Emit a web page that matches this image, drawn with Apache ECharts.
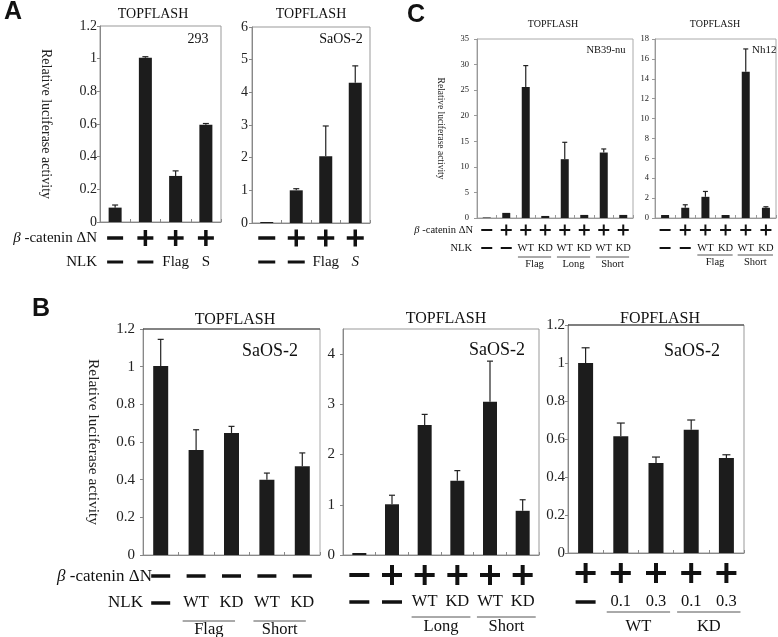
<!DOCTYPE html>
<html><head><meta charset="utf-8">
<script src="https://cdn.jsdelivr.net/npm/echarts@6/dist/echarts.min.js"></script>
<style>html,body{margin:0;padding:0;background:#fff}#c{width:778px;height:637px}</style>
</head><body><div id="c"></div>
<script>
// ---------- DATA ----------
// Panel A (293)
const a1Values = [0.088, 1.006, 0.282, 0.595];
const a1ErrTop = [0.104, 1.012, 0.313, 0.603];
const a1Beta = ['-', '+', '+', '+'];
const a1Nlk = ['-', '-', 'Flag', 'S'];
const a1YAxis = [0, 1.2, 0.2];
// Panel A (SaOS-2)
const a2Values = [0.03, 1.0, 2.04, 4.29];
const a2ErrTop = [0.03, 1.05, 2.97, 4.81];
const a2Beta = ['-', '+', '+', '+'];
const a2Nlk = ['-', '-', 'Flag', 'S'];
const a2YAxis = [0, 6, 1];
// Panel C (NB39-nu)
const c1Values = [0.1, 1.0, 25.6, 0.4, 11.5, 0.6, 12.8, 0.6];
const c1ErrTop = [0.1, 1.1, 29.8, 0.45, 14.8, 0.7, 13.5, 0.65];
const c1Beta = ['-', '+', '+', '+', '+', '+', '+', '+'];
const c1Nlk = ['-', '-', 'WT', 'KD', 'WT', 'KD', 'WT', 'KD'];
const c1Groups = [['Flag', 2, 3], ['Long', 4, 5], ['Short', 6, 7]];
const c1YAxis = [0, 35, 5];
// Panel C (Nh12)
const c2Values = [0.3, 1.03, 2.13, 0.3, 14.7, 1.03];
const c2ErrTop = [0.3, 1.33, 2.67, 0.3, 17.0, 1.13];
const c2Beta = ['-', '+', '+', '+', '+', '+'];
const c2Nlk = ['-', '-', 'WT', 'KD', 'WT', 'KD'];
const c2Groups = [['Flag', 2, 3], ['Short', 4, 5]];
const c2YAxis = [0, 18, 2];
// Panel B (TOPFLASH, no beta-catenin)
const b1Values = [1.004, 0.558, 0.648, 0.40, 0.471];
const b1ErrTop = [1.145, 0.665, 0.683, 0.435, 0.542];
const b1Beta = ['-', '-', '-', '-', '-'];
const b1Nlk = ['-', 'WT', 'KD', 'WT', 'KD'];
const b1Groups = [['Flag', 1, 2], ['Short', 3, 4]];
const b1YAxis = [0, 1.2, 0.2];
// Panel B (TOPFLASH, Long/Short)
const b2Values = [0.04, 1.01, 2.59, 1.48, 3.05, 0.88];
const b2ErrTop = [0.04, 1.19, 2.80, 1.68, 3.86, 1.10];
const b2Beta = ['-', '+', '+', '+', '+', '+'];
const b2Nlk = ['-', '-', 'WT', 'KD', 'WT', 'KD'];
const b2Groups = [['Long', 2, 3], ['Short', 4, 5]];
const b2YAxis = [0, 4.5, 1];
// Panel B (FOPFLASH)
const b3Values = [1.0, 0.614, 0.474, 0.649, 0.50];
const b3ErrTop = [1.08, 0.684, 0.505, 0.70, 0.517];
const b3Beta = ['+', '+', '+', '+', '+'];
const b3Nlk = ['-', '0.1', '0.3', '0.1', '0.3'];
const b3Groups = [['WT', 1, 2], ['KD', 3, 4]];
const b3YAxis = [0, 1.2, 0.2];

// ---------- LAYOUT / STYLE ----------
const SERIF = 'Liberation Serif';
const SANS = 'Liberation Sans';
const panels = [
  {values:a1Values, err:a1ErrTop, beta:a1Beta, nlk:a1Nlk, groups:[], y:a1YAxis,
   grid:{left:100, top:26, width:121, height:196}, barW:13, cap:3, lab:14, labMargin:3, axisColor:'#888', border:'#999',
   name:'Relative luciferase activity', nameGap:47, nameSize:14,
   st:{betaDy:16, nlkDy:40, symHalf:8, symW:3.5, dashHalf:8, dashW:3, font:15}},
  {values:a2Values, err:a2ErrTop, beta:a2Beta, nlk:a2Nlk, groups:[], y:a2YAxis, italicS:true,
   grid:{left:252, top:27, width:118, height:196}, barW:13, cap:3, lab:14, labMargin:4, axisColor:'#888', border:'#999',
   st:{betaDy:15, nlkDy:39, symHalf:8.5, symW:3.5, dashHalf:8.5, dashW:3, font:15}},
  {values:c1Values, err:c1ErrTop, beta:c1Beta, nlk:c1Nlk, groups:c1Groups, y:c1YAxis,
   grid:{left:477, top:39, width:156, height:179}, barW:8, cap:2.5, lab:8.5, labMargin:8, axisColor:'#999', border:'#aaa',
   name:'Relative luciferase activity', nameGap:32, nameSize:9.5,
   st:{betaDy:12, nlkDy:30, lineDy:39, groupDy:46, symHalf:5.5, symW:2, dashHalf:5.5, dashW:2, font:10.5, ulL:0.4, ulR:0.3}},
  {values:c2Values, err:c2ErrTop, beta:c2Beta, nlk:c2Nlk, groups:c2Groups, y:c2YAxis,
   grid:{left:655, top:39, width:121, height:179}, barW:8, cap:2.5, lab:8.5, labMargin:6, axisColor:'#999', border:'#aaa',
   st:{betaDy:12, nlkDy:30, lineDy:37, groupDy:44, symHalf:5.5, symW:2, dashHalf:5.5, dashW:2, font:10.5, ulL:0.4, ulR:0.35}},
  {values:b1Values, err:b1ErrTop, beta:b1Beta, nlk:b1Nlk, groups:b1Groups, y:b1YAxis,
   grid:{left:143, top:329, width:177, height:226}, barW:15, cap:3, lab:15, labMargin:8, axisColor:'#888', border:'#aaa',
   name:'Relative luciferase activity', nameGap:42, nameSize:15.5,
   st:{betaDy:21, nlkDy:48, lineDy:66, groupDy:75, symHalf:9.5, symW:3.5, dashHalf:9.5, dashW:3.5, font:16.5, ulL:0.38, ulR:0.1}},
  {values:b2Values, err:b2ErrTop, beta:b2Beta, nlk:b2Nlk, groups:b2Groups, y:b2YAxis,
   grid:{left:343, top:329, width:196, height:226}, barW:14, cap:3, lab:15, labMargin:8, axisColor:'#888', border:'#999', hideMax:true,
   st:{betaDy:20, nlkDy:47, lineDy:62, groupDy:72, symHalf:10, symW:4, dashHalf:10, dashW:3.5, font:16.5, ulL:0.4, ulR:0.4}},
  {values:b3Values, err:b3ErrTop, beta:b3Beta, nlk:b3Nlk, groups:b3Groups, y:b3YAxis,
   grid:{left:568, top:325, width:176, height:228}, barW:15, cap:4, lab:15, labMargin:3, axisColor:'#888', border:'#999',
   st:{betaDy:20, nlkDy:49, lineDy:59, groupDy:74, symHalf:10, symW:4, dashHalf:10, dashW:3.5, font:16.5, ulL:0.4, ulR:0.4}}
];

function tstyle(text, size, family, weight, align, italic) {
  return {text:text, fill:'#111', fontSize:size, fontFamily:family || SERIF, fontWeight:weight || 'normal',
    fontStyle:italic ? 'italic' : 'normal',
    align:align || 'center', verticalAlign:'middle', textAlign:align || 'center', textVerticalAlign:'middle'};
}

function addSym(kids, s, x, y, st, isNlk, italic) {
  if (s === '+') {
    kids.push({type:'line', shape:{x1:x - st.symHalf, y1:y, x2:x + st.symHalf, y2:y}, style:{stroke:'#111', lineWidth:st.symW}});
    kids.push({type:'line', shape:{x1:x, y1:y - st.symHalf, x2:x, y2:y + st.symHalf}, style:{stroke:'#111', lineWidth:st.symW}});
  } else if (s === '-') {
    const h = isNlk ? st.dashHalf : st.symHalf;
    const w = isNlk ? st.dashW : st.symW;
    kids.push({type:'line', shape:{x1:x - h, y1:y, x2:x + h, y2:y}, style:{stroke:'#111', lineWidth:w}});
  } else {
    kids.push({type:'text', x:x, y:y, style:tstyle(s, st.font, SERIF, 'normal', 'center', italic)});
  }
}

const grids = [], xAxes = [], yAxes = [], series = [];
panels.forEach((p, k) => {
  grids.push(Object.assign({show:true, borderColor:p.border, borderWidth:1, backgroundColor:'transparent', containLabel:false}, p.grid));
  xAxes.push({gridIndex:k, type:'category', data:p.values.map((v, i) => String(i + 1)),
    axisLine:{lineStyle:{color:p.axisColor, width:1}}, axisLabel:{show:false},
    axisTick:{show:true, inside:true, length:3, alignWithLabel:false, lineStyle:{color:p.axisColor}}, splitLine:{show:false}});
  yAxes.push({gridIndex:k, type:'value', min:p.y[0], max:p.y[1], interval:p.y[2],
    axisLine:{show:true, lineStyle:{color:p.axisColor, width:1}},
    axisTick:{show:true, length:3, lineStyle:{color:p.axisColor}},
    axisLabel:{fontFamily:SERIF, fontSize:p.lab, color:'#222', margin:p.labMargin, showMaxLabel:!p.hideMax},
    splitLine:{show:false},
    name:p.name || '', nameLocation:'middle', nameRotate:-90, nameGap:p.nameGap || 0,
    nameTextStyle:{fontFamily:SERIF, fontSize:p.nameSize || 12, color:'#222'}});
  series.push({type:'bar', xAxisIndex:k, yAxisIndex:k, data:p.values, barWidth:p.barW, silent:true,
    itemStyle:{color:'#1c1c1c'}, z:2});
  series.push({type:'custom', xAxisIndex:k, yAxisIndex:k, silent:true, z:3,
    data:p.values.map((v, i) => [i, v, p.err[i]]), encode:{x:0, y:[1, 2]},
    renderItem(params, api) {
      const b = api.coord([api.value(0), api.value(1)]);
      const t = api.coord([api.value(0), api.value(2)]);
      if (b[1] - t[1] < 0.8) return {type:'group', children:[]};
      return {type:'group', children:[
        {type:'line', shape:{x1:b[0], y1:b[1], x2:t[0], y2:t[1]}, style:{stroke:'#222', lineWidth:1.2}},
        {type:'line', shape:{x1:t[0] - p.cap, y1:t[1], x2:t[0] + p.cap, y2:t[1]}, style:{stroke:'#222', lineWidth:1.2}}
      ]};
    }});
  series.push({type:'custom', xAxisIndex:k, yAxisIndex:k, silent:true, clip:false, z:4,
    data:p.beta.map((b, i) => [i, 0]), encode:{x:0, y:1},
    renderItem(params, api) {
      const i = params.dataIndex;
      const c = api.coord([api.value(0), 0]);
      const kids = [];
      addSym(kids, p.beta[i], c[0], c[1] + p.st.betaDy, p.st, false, false);
      addSym(kids, p.nlk[i], c[0], c[1] + p.st.nlkDy, p.st, true, p.italicS && p.nlk[i] === 'S');
      return {type:'group', children:kids};
    }});
  if (p.groups.length) {
    series.push({type:'custom', xAxisIndex:k, yAxisIndex:k, silent:true, clip:false, z:4,
      data:p.groups.map(g => [g[1], g[2]]), encode:{x:[0, 1]},
      renderItem(params, api) {
        const a = api.coord([api.value(0), 0]);
        const b = api.coord([api.value(1), 0]);
        const band = api.size([1, 0])[0];
        const x1 = a[0] - band * p.st.ulL, x2 = b[0] + band * p.st.ulR;
        return {type:'group', children:[
          {type:'line', shape:{x1:x1, y1:a[1] + p.st.lineDy, x2:x2, y2:a[1] + p.st.lineDy}, style:{stroke:'#555', lineWidth:1}},
          {type:'text', x:(x1 + x2) / 2, y:a[1] + p.st.groupDy, style:tstyle(p.groups[params.dataIndex][0], p.st.font)}
        ]};
      }});
  }
});

function txt(text, x, y, size, align, family, weight) {
  return {type:'text', x:x, y:y, silent:true, z:10, style:tstyle(text, size, family, weight, align)};
}
function betaLabel(x, y, size) {
  const s = tstyle('{b|β} -catenin ΔN', size, SERIF, 'normal', 'right');
  s.rich = {b:{fontStyle:'italic', fontSize:size, fontFamily:SERIF, fill:'#111'}};
  return {type:'text', x:x, y:y, silent:true, z:10, style:s};
}
const graphics = [
  txt('A', 4, 12, 25, 'left', SANS, 'bold'),
  txt('C', 407, 15, 25, 'left', SANS, 'bold'),
  txt('B', 32, 309, 25, 'left', SANS, 'bold'),
  txt('TOPFLASH', 153, 14, 14),
  txt('TOPFLASH', 311, 14, 14),
  txt('293', 198, 39, 14),
  txt('SaOS-2', 341, 39, 14),
  txt('TOPFLASH', 553, 24, 10),
  txt('TOPFLASH', 715, 24, 10),
  txt('NB39-nu', 606, 50, 10.5),
  txt('Nh12', 752, 50, 11, 'left'),
  txt('TOPFLASH', 235, 320, 16),
  txt('SaOS-2', 270, 351, 18),
  txt('TOPFLASH', 446, 319, 16),
  txt('SaOS-2', 497, 350, 18),
  txt('FOPFLASH', 660, 319, 16),
  txt('SaOS-2', 692, 351, 18),
  betaLabel(97, 238, 15),
  txt('NLK', 97, 262, 15, 'right'),
  betaLabel(473, 230, 10.5),
  txt('NLK', 472, 248, 10.5, 'right'),
  betaLabel(152, 577, 17),
  txt('NLK', 143, 603, 17, 'right'),
  {type:'line', silent:true, z:10, shape:{x1:143, y1:329, x2:320, y2:329}, style:{stroke:'#333', lineWidth:1.2}},
  {type:'line', silent:true, z:10, shape:{x1:568, y1:325, x2:744, y2:325}, style:{stroke:'#333', lineWidth:1.2}}
];

const chart = echarts.init(document.getElementById('c'), null, {renderer:'canvas'});
chart.setOption({
  animation:false,
  backgroundColor:'#fff',
  grid:grids, xAxis:xAxes, yAxis:yAxes, series:series,
  graphic:graphics
});
</script></body></html>
